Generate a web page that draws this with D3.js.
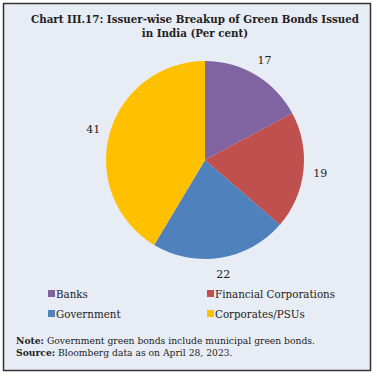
<!DOCTYPE html>
<html>
<head>
<meta charset="utf-8">
<script src="https://cdn.jsdelivr.net/npm/d3@7"></script>
<style>
  body { margin: 0; background: #fff; }
</style>
</head>
<body>
<div id="vis"></div>
<script>
var categories = ["Banks", "Financial Corporations", "Government", "Corporates/PSUs"];
var values = [17, 19, 22, 41];
var colors = ["#8064a2", "#c0504d", "#4f81bd", "#ffc000"];
var titleLines = ["Chart III.17: Issuer-wise Breakup of Green Bonds Issued", "in India (Per cent)"];

var font = '"DejaVu Serif", "Liberation Serif", serif';
var W = 377, H = 376;

var svg = d3.select("#vis").append("svg")
    .attr("width", W)
    .attr("height", H);

svg.append("rect")
    .attr("x", 3.5).attr("y", 3.5)
    .attr("width", 367).attr("height", 367)
    .attr("fill", "#e8edf5")
    .attr("stroke", "#333").attr("stroke-width", 1.5);

svg.selectAll("text.title")
    .data(titleLines)
    .enter().append("text")
    .attr("class", "title")
    .attr("x", 195)
    .attr("y", (d, i) => 23 + i * 13.5)
    .attr("text-anchor", "middle")
    .style("font-family", font)
    .style("font-weight", "bold")
    .style("font-size", "10.3px")
    .attr("fill", "#222")
    .text(d => d);

var radius = 99;
var g = svg.append("g").attr("transform", "translate(205,160)");

var pie = d3.pie().sort(null).value(d => d);
var arc = d3.arc().innerRadius(0).outerRadius(radius);
var labelArc = d3.arc().innerRadius(116).outerRadius(116);

var arcs = pie(values);

g.selectAll("path")
    .data(arcs)
    .enter().append("path")
    .attr("d", arc)
    .attr("fill", (d, i) => colors[i]);

g.selectAll("text.lbl")
    .data(arcs)
    .enter().append("text")
    .attr("class", "lbl")
    .attr("transform", d => "translate(" + labelArc.centroid(d) + ")")
    .attr("text-anchor", "middle")
    .attr("dy", "0.35em")
    .style("font-family", font)
    .style("font-size", "11px")
    .attr("fill", "#222")
    .text(d => d.data);

// legend, two columns
var legend = svg.selectAll("g.leg")
    .data(categories)
    .enter().append("g")
    .attr("class", "leg")
    .attr("transform", (d, i) => "translate(" + (i % 2 === 0 ? 48 : 207) + "," + (294 + Math.floor(i / 2) * 20) + ")");

legend.append("rect")
    .attr("x", 0).attr("y", -4)
    .attr("width", 7).attr("height", 7)
    .attr("fill", (d, i) => colors[i]);

legend.append("text")
    .attr("x", 8)
    .attr("dy", "0.35em")
    .style("font-family", font)
    .style("font-size", "10.3px")
    .attr("fill", "#222")
    .text(d => d);

var notes = [
    ["Note:", " Government green bonds include municipal green bonds."],
    ["Source:", " Bloomberg data as on April 28, 2023."]
];

notes.forEach((n, i) => {
    var t = svg.append("text")
        .attr("x", 16)
        .attr("y", 344 + i * 12)
        .style("font-family", font)
        .style("font-size", "9.2px")
        .attr("fill", "#222");
    t.append("tspan").style("font-weight", "bold").text(n[0]);
    t.append("tspan").text(n[1]);
});
</script>
</body>
</html>
